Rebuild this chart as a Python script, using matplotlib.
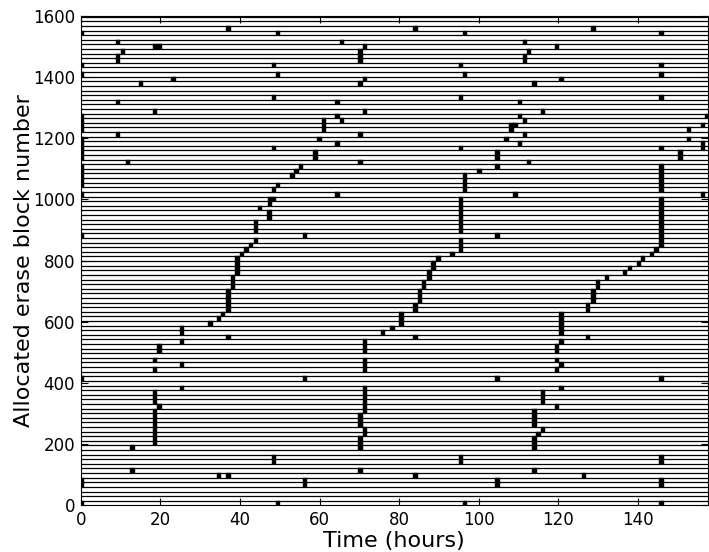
"""Erase block allocation over time."""

import numpy as np
from matplotlib import pyplot as plt

# hour at which a group of erase blocks was allocated, and the block rows in it
column_hours = [
    0.4, 9.4, 10.7, 11.9, 13.0, 15.2, 18.7, 19.8, 23.3, 25.5,
    32.6, 34.8, 35.8, 37.1, 38.2, 39.4, 40.6, 41.7, 42.8, 44.0,
    45.0, 47.4, 47.6, 48.6, 49.6, 53.2, 54.2, 55.4, 56.4, 59.0,
    60.0, 61.2, 64.5, 65.7, 70.3, 71.5, 76.0, 78.3, 80.6, 84.1,
    85.3, 86.3, 87.6, 88.6, 89.9, 93.4, 95.6, 96.6, 100.2, 104.7,
    107.0, 108.2, 109.2, 110.4, 111.7, 112.7, 114.0, 115.0, 116.2, 119.7,
    120.8, 126.5, 127.5, 128.8, 130.0, 132.3, 136.8, 138.0, 140.3, 141.3,
    143.6, 144.7, 145.9, 150.7, 152.9, 156.4, 157.3,
]
column_rows = [
    [102, 95, 93, 84, 83, 82, 81, 79, 78, 77, 76, 75, 73, 72, 71, 70, 69, 67, 58, 27, 5, 4, 0],
    [100, 97, 96, 87, 80],
    [98],
    [74],
    [12, 7],
    [91],
    [99, 85, 31, 29, 24, 23, 22, 20, 19, 18, 17, 16, 15, 14, 13],
    [99, 34, 33, 21],
    [92],
    [38, 37, 35, 30, 25],
    [39],
    [40, 6],
    [41],
    [103, 46, 45, 44, 43, 42, 36, 6],
    [49, 48, 47],
    [53, 52, 51, 50],
    [54],
    [55],
    [56],
    [61, 60, 59, 57],
    [64],
    [63, 62],
    [66, 65],
    [95, 88, 77, 68, 66, 10, 9],
    [102, 93, 69, 0],
    [71],
    [72],
    [73],
    [58, 27, 5, 4],
    [76, 75],
    [79],
    [83, 82, 81],
    [87, 84, 78, 67],
    [100, 83],
    [98, 97, 96, 91, 80, 74, 19, 18, 17, 14, 13, 12, 7],
    [99, 92, 85, 35, 34, 33, 31, 30, 29, 25, 24, 23, 22, 21, 20, 16, 15],
    [37],
    [38],
    [41, 40, 39],
    [103, 43, 42, 36, 6],
    [46, 45, 44],
    [48, 47],
    [50, 49],
    [52, 51],
    [53],
    [54],
    [95, 88, 77, 66, 65, 64, 63, 62, 61, 60, 59, 57, 56, 55, 10, 9],
    [102, 93, 71, 70, 69, 68, 0],
    [72],
    [76, 75, 73, 58, 27, 5, 4],
    [79],
    [82, 81],
    [82, 67],
    [87, 84, 78],
    [100, 97, 96, 83, 80],
    [98, 74],
    [91, 20, 19, 18, 17, 14, 13, 12, 7],
    [15],
    [85, 24, 23, 22, 16],
    [99, 34, 33, 31, 29, 21],
    [92, 41, 40, 39, 38, 37, 35, 30, 25],
    [6],
    [43, 42, 36],
    [103, 46, 45, 44],
    [48, 47],
    [49],
    [50],
    [51],
    [52],
    [53],
    [54],
    [55],
    [102, 95, 93, 88, 77, 73, 72, 71, 70, 69, 68, 66, 65, 64, 63, 62, 61, 60,
     59, 58, 57, 56, 27, 10, 9, 5, 4, 0],
    [76, 75],
    [81, 79],
    [82, 78, 77, 67],
    [84],
]

# layout of the block rows on the y axis (block numbers)
N_ROWS = 106
FIRST_ROW = 6.5
ROW_HEIGHT = 15.08
MARK_WIDTH = 1.1  # hours
X_MAX = 157.5


def main():
    fig = plt.figure(figsize=(7.09, 5.52), dpi=100)
    ax = fig.add_axes([0.1138, 0.0851, 0.8842, 0.8859])

    # one line between every pair of block rows
    edges = FIRST_ROW + ROW_HEIGHT * (np.arange(N_ROWS) + 0.5)
    ax.hlines(edges, 0, X_MAX, colors="black", linewidth=0.9)

    for hour, rows in zip(column_hours, column_rows):
        blocks = FIRST_ROW + ROW_HEIGHT * np.array(rows)
        ax.barh(blocks, MARK_WIDTH, left=hour - MARK_WIDTH / 2, height=ROW_HEIGHT,
                color="black", edgecolor="black", linewidth=0.3)

    ax.set_xlim(0, X_MAX)
    ax.set_ylim(0, 1600)
    ax.set_xticks(range(0, 141, 20))
    ax.set_yticks(range(0, 1601, 200))
    ax.tick_params(direction="in", top=True, right=True, length=5,
                   labelsize=12, pad=4)
    ax.set_xlabel("Time (hours)", fontsize=16, labelpad=2)
    ax.set_ylabel("Allocated erase block number", fontsize=16, labelpad=-1)

    fig.savefig("out.png", dpi=100)


if __name__ == "__main__":
    main()
